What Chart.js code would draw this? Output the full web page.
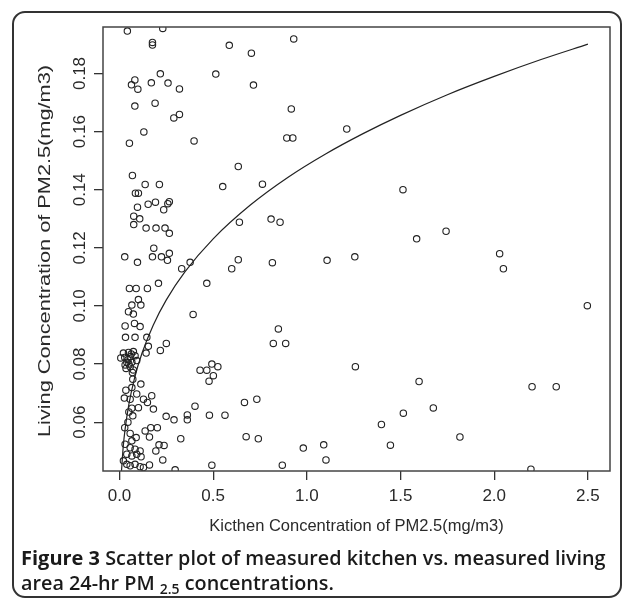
<!DOCTYPE html>
<html><head><meta charset="utf-8">
<script src="https://cdn.jsdelivr.net/npm/chart.js@4"></script>
<style>html,body{margin:0;padding:0;background:#fff}canvas{display:block}</style>
</head><body>
<canvas id="c" width="632" height="600"></canvas>
<script>
// Scatter data: kitchen PM2.5 (x) vs living-area PM2.5 (y), mg/m3
const kitchenX = [
0.042,0.231,0.176,0.176,0.586,0.704,0.218,0.514,0.082,0.064,
0.098,0.170,0.259,0.320,0.715,0.082,0.190,0.290,0.320,0.130,
0.053,0.398,0.634,0.930,0.917,0.893,0.925,1.213,0.763,1.513,
0.809,0.857,1.586,0.069,0.137,0.213,0.551,0.085,0.101,0.096,
0.153,0.192,0.266,0.258,0.236,0.076,0.108,0.076,0.142,0.195,
0.243,0.266,0.640,0.183,0.028,0.096,0.176,0.224,0.266,0.256,
0.332,0.377,0.634,0.599,0.466,0.053,0.089,0.149,0.208,0.101,
0.066,0.114,0.393,0.048,0.074,0.030,0.080,0.110,0.032,0.083,
0.146,0.154,0.142,0.250,0.218,0.021,0.048,0.074,0.028,0.007,
0.057,0.083,0.039,0.066,0.092,0.030,0.057,0.074,0.045,0.063,
0.035,0.050,0.069,0.430,0.466,0.493,0.525,0.501,0.478,0.114,
0.071,0.034,0.066,0.092,0.026,0.057,0.128,0.172,0.149,0.181,
0.101,0.066,0.071,0.249,0.291,0.362,0.362,0.403,0.480,0.563,
0.667,0.733,0.676,0.741,0.327,0.137,0.167,0.202,0.160,0.028,
0.057,0.089,0.066,0.211,0.238,0.194,0.231,0.030,0.057,0.083,
0.110,0.039,0.066,0.092,0.115,0.021,0.039,0.057,0.083,0.110,
0.128,0.160,0.297,0.493,0.045,0.050,
0.816,1.108,1.256,0.848,0.821,0.887,1.259,1.599,1.515,1.398,
1.446,0.981,1.090,1.102,0.869,
1.743,2.029,2.049,2.497,1.675,1.817,2.202,2.331,2.196
];
const livingY = [
0.1946,0.1955,0.1907,0.1898,0.1897,0.1870,0.1799,0.1798,0.1778,0.1761,
0.1746,0.1768,0.1767,0.1747,0.1760,0.1688,0.1698,0.1647,0.1659,0.1599,
0.1560,0.1568,0.1480,0.1919,0.1678,0.1578,0.1578,0.1609,0.1419,0.1400,
0.1299,0.1288,0.1231,0.1449,0.1418,0.1418,0.1411,0.1388,0.1388,0.1340,
0.1350,0.1357,0.1359,0.1352,0.1331,0.1309,0.1300,0.1280,0.1268,0.1268,
0.1268,0.1250,0.1288,0.1199,0.1169,0.1150,0.1169,0.1169,0.1181,0.1157,
0.1128,0.1150,0.1159,0.1128,0.1078,0.1060,0.1060,0.1060,0.1078,0.1022,
0.1003,0.1003,0.0971,0.0980,0.0972,0.0931,0.0940,0.0929,0.0892,0.0892,
0.0892,0.0861,0.0838,0.0871,0.0847,0.0838,0.0840,0.0843,0.0823,0.0821,
0.0825,0.0829,0.0806,0.0806,0.0812,0.0797,0.0791,0.0780,0.0815,0.0835,
0.0785,0.0800,0.0771,0.0779,0.0779,0.0800,0.0791,0.0760,0.0741,0.0731,
0.0748,0.0710,0.0719,0.0697,0.0683,0.0679,0.0679,0.0691,0.0668,0.0645,
0.0650,0.0648,0.0622,0.0620,0.0608,0.0625,0.0608,0.0655,0.0624,0.0624,
0.0668,0.0679,0.0550,0.0543,0.0543,0.0570,0.0581,0.0581,0.0549,0.0581,
0.0561,0.0547,0.0536,0.0522,0.0520,0.0501,0.0470,0.0524,0.0512,0.0507,
0.0501,0.0490,0.0484,0.0490,0.0481,0.0467,0.0455,0.0450,0.0455,0.0447,
0.0444,0.0453,0.0436,0.0452,0.0600,0.0635,
0.1149,0.1157,0.1169,0.0921,0.0871,0.0871,0.0791,0.0740,0.0631,0.0592,
0.0521,0.0511,0.0522,0.0470,0.0452,
0.1257,0.1180,0.1128,0.1001,0.0649,0.0549,0.0722,0.0722,0.0438
];
// Fitted curve
const fitX = [0.0105,0.02,0.03,0.05,0.08,0.12,0.18,0.25,0.35,0.5,0.7,0.9,1.1,1.3,1.5,1.75,2.0,2.25,2.5];
const fitY = [0.0430,0.0516,0.0576,0.0661,0.0751,0.0837,0.0934,0.1021,0.1118,0.1231,0.1348,0.1443,0.1523,0.1593,0.1656,0.1727,0.1790,0.1848,0.1901];

const xTicks = [0, 0.5, 1.0, 1.5, 2.0, 2.5];
const yTicks = [0.06, 0.08, 0.10, 0.12, 0.14, 0.16, 0.18];
const xTitle = 'Kicthen Concentration of PM2.5(mg/m3)';
const yTitle = 'Living Concentration of PM2.5(mg/m3)';
const captionBold = 'Figure 3';
const captionLine1 = ' Scatter plot of measured kitchen vs. measured living';
const captionLine2a = 'area 24-hr PM ';
const captionSub = '2.5';
const captionLine2b = ' concentrations.';

const AX_FONT = '"Liberation Sans", Arial, sans-serif';
const CAP_FONT = '"Open Sans", "Noto Sans", sans-serif';
const INK = '#2a2a2a';

const decor = {
  id: 'decor',
  afterDraw(chart) {
    const ctx = chart.ctx, a = chart.chartArea;
    const ys = chart.scales.y;
    ctx.save();
    // outer rounded frame
    ctx.strokeStyle = '#333'; ctx.lineWidth = 2;
    ctx.beginPath(); ctx.roundRect(13, 12, 608, 585, 12); ctx.stroke();
    // plot box
    ctx.strokeStyle = '#444'; ctx.lineWidth = 1.5;
    ctx.strokeRect(a.left, a.top, a.right - a.left, a.bottom - a.top);
    // y tick labels (rotated, R style)
    ctx.fillStyle = INK;
    ctx.font = '17px ' + AX_FONT;
    ctx.textAlign = 'center'; ctx.textBaseline = 'middle';
    yTicks.forEach(v => {
      const py = ys.getPixelForValue(v);
      ctx.save(); ctx.translate(80, py); ctx.rotate(-Math.PI / 2);
      ctx.fillText(v.toFixed(2), 0, 0); ctx.restore();
    });
    // y title: stretched along its length to span the plot as in the reference
    ctx.font = '17px ' + AX_FONT;
    const yw = ctx.measureText(yTitle).width;
    ctx.save(); ctx.translate(45, (a.top + a.bottom) / 2 + 2); ctx.rotate(-Math.PI / 2);
    ctx.scale(372 / yw, 1);
    ctx.fillText(yTitle, 0, 0); ctx.restore();
    // x title
    ctx.font = '16.5px ' + AX_FONT;
    ctx.fillText(xTitle, (a.left + a.right) / 2, 526);
    // caption
    ctx.textAlign = 'left'; ctx.textBaseline = 'alphabetic';
    ctx.fillStyle = '#1a1a1a';
    let x = 21;
    ctx.font = '700 20px ' + CAP_FONT;
    ctx.fillText(captionBold, x, 565); x += ctx.measureText(captionBold).width;
    ctx.font = '600 19.8px ' + CAP_FONT;
    ctx.fillText(captionLine1, x, 565);
    x = 21;
    ctx.fillText(captionLine2a, x, 590); x += ctx.measureText(captionLine2a).width;
    ctx.font = '600 14px ' + CAP_FONT;
    ctx.fillText(captionSub, x, 594); x += ctx.measureText(captionSub).width;
    ctx.font = '600 19.8px ' + CAP_FONT;
    ctx.fillText(captionLine2b, x, 590);
    ctx.restore();
  }
};

new Chart(document.getElementById('c'), {
  type: 'scatter',
  data: {
    datasets: [
      {
        label: 'Measured',
        data: kitchenX.map((v, i) => ({ x: v, y: livingY[i] })),
        pointStyle: 'circle', pointRadius: 3.2, pointBorderWidth: 1.1,
        pointBorderColor: '#222', pointBackgroundColor: 'rgba(0,0,0,0)'
      },
      {
        label: 'Fit',
        data: fitX.map((v, i) => ({ x: v, y: fitY[i] })),
        showLine: true, pointRadius: 0, borderColor: '#222', borderWidth: 1.2,
        cubicInterpolationMode: 'monotone', fill: false
      }
    ]
  },
  options: {
    responsive: false, animation: false, devicePixelRatio: 1,
    layout: { padding: { left: 0, top: 27, right: 22, bottom: 0 } },
    plugins: { legend: { display: false }, tooltip: { enabled: false } },
    scales: {
      x: {
        type: 'linear', min: -0.088, max: 2.618,
        afterBuildTicks: s => { s.ticks = xTicks.map(v => ({ value: v })); },
        afterFit: s => { s.height = 129; },
        border: { display: false },
        grid: { drawOnChartArea: false, drawTicks: true, tickLength: 9, color: '#333', lineWidth: 1.3 },
        ticks: { font: { family: AX_FONT, size: 17 }, color: INK, padding: 6, maxRotation: 0, minRotation: 0,
                 callback: v => Number(v).toFixed(1) }
      },
      y: {
        type: 'linear', min: 0.0432, max: 0.196,
        afterBuildTicks: s => { s.ticks = yTicks.map(v => ({ value: v })); },
        afterFit: s => { s.width = 103; },
        border: { display: false },
        grid: { drawOnChartArea: false, drawTicks: true, tickLength: 9, color: '#333', lineWidth: 1.3 },
        ticks: { callback: () => '' }
      }
    }
  },
  plugins: [decor]
});
</script>
</body></html>
